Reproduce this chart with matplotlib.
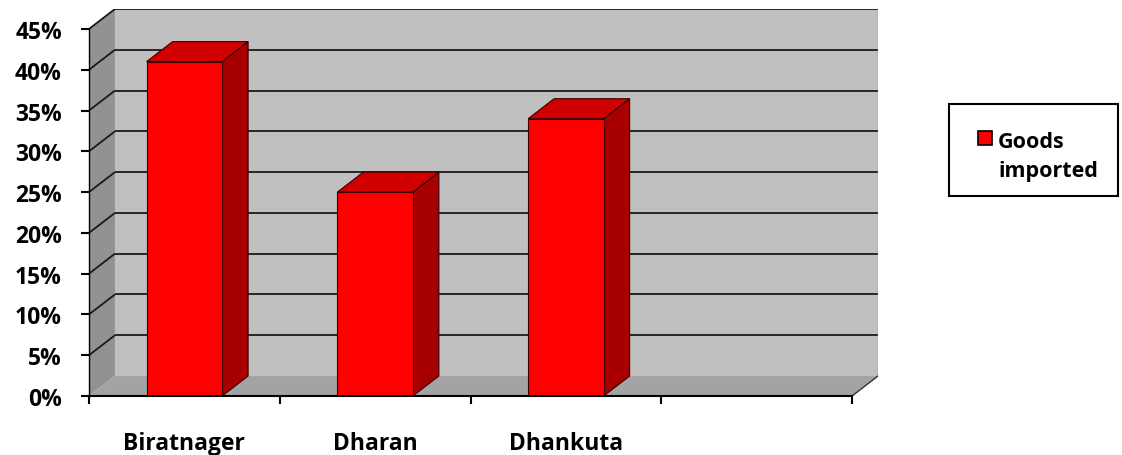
import matplotlib
matplotlib.use("Agg")
import matplotlib.pyplot as plt
from matplotlib.patches import Polygon, Rectangle

# Share of goods imported, by town
categories = ["Biratnager", "Dharan", "Dhankuta"]
goods_imported = [41, 25, 34]
n_slots = 4                      # category slots on the floor (last one is empty)
y_ticks = list(range(0, 50, 5))  # percent
series_label = "Goods\nimported"

# 3-D look
DX, DY = 0.136, 2.45             # depth offset in data units
BAR_HALF = 0.198
WALL_BACK = "#c0c0c0"
WALL_SIDE = "#929292"
FLOOR = "#a3a3a3"
RED_FRONT = "#ff0000"
RED_TOP = "#d00000"
RED_SIDE = "#a80000"
GRID = "#1a1a1a"

plt.rcParams["font.family"] = ["Open Sans", "DejaVu Sans"]
plt.rcParams["font.weight"] = "bold"

W, H = 1122, 456
fig = plt.figure(figsize=(W / 100, H / 100), dpi=100)
fig.patch.set_facecolor("white")

ax = fig.add_axes([89 / W, 59 / H, 789 / W, 387 / H])
ymax = y_ticks[-1]
ax.set_xlim(0, n_slots + DX)
ax.set_ylim(0, ymax + DY)
ax.set_facecolor("none")

def poly(pts, fc, ec="none", lw=0.0, z=1):
    ax.add_patch(Polygon(pts, closed=True, facecolor=fc, edgecolor=ec,
                         linewidth=lw, zorder=z, joinstyle="miter"))

# walls and floor
poly([(DX, DY), (n_slots + DX, DY), (n_slots + DX, ymax + DY), (DX, ymax + DY)], WALL_BACK)
poly([(0, 0), (DX, DY), (DX, ymax + DY), (0, ymax)], WALL_SIDE)
poly([(0, 0), (n_slots, 0), (n_slots + DX, DY), (DX, DY)], FLOOR)

# grid lines on back and side walls
for v in y_ticks[1:]:
    ax.plot([DX, n_slots + DX], [v + DY, v + DY], color=GRID, lw=1.3, zorder=2,
            solid_capstyle="butt")
    ax.plot([0, DX], [v, v + DY], color=GRID, lw=1.3, zorder=2, solid_capstyle="butt")
ax.plot([n_slots + DX, n_slots + DX], [DY, ymax + DY], color="#8a8a8a", lw=1.0, zorder=2)
ax.plot([n_slots, n_slots + DX], [0, DY], color="#333333", lw=1.0, zorder=2)

# bars
for i, v in enumerate(goods_imported):
    c = i + 0.5
    x0, x1 = c - BAR_HALF, c + BAR_HALF
    edge = dict(ec="#3a0000", lw=0.8, z=4)
    poly([(x1, 0), (x1 + DX, DY), (x1 + DX, v + DY), (x1, v)], RED_SIDE, **edge)
    poly([(x0, v), (x1, v), (x1 + DX, v + DY), (x0 + DX, v + DY)], RED_TOP, **edge)
    poly([(x0, 0), (x1, 0), (x1, v), (x0, v)], RED_FRONT, **edge)

# axes
for s in ("top", "right"):
    ax.spines[s].set_visible(False)
ax.spines["left"].set_bounds(0, ymax)
ax.spines["bottom"].set_bounds(0, n_slots)
ax.spines["left"].set_linewidth(1.0)
ax.spines["bottom"].set_linewidth(1.5)
ax.spines["left"].set_zorder(5)
ax.spines["bottom"].set_zorder(5)

ax.set_yticks(y_ticks)
ax.set_yticklabels([f"{v}%" for v in y_ticks])
ax.tick_params(axis="y", direction="out", length=6, width=1.5, pad=13.5,
               labelsize=16.5)
ax.set_xticks(range(n_slots + 1))
ax.set_xticklabels([""] * (n_slots + 1))
ax.set_xticks([i + 0.5 for i in range(len(categories))], minor=True)
ax.set_xticklabels(categories, minor=True)
ax.tick_params(axis="x", which="major", direction="out", length=6, width=1.5)
ax.tick_params(axis="x", which="minor", length=0, pad=25.5, labelsize=16.5)

# legend box
def fx(px):
    return px / W

def fy(py):
    return 1 - py / H

fig.add_artist(Rectangle((fx(949), fy(197)), fx(1118) - fx(949), fy(105) - fy(197),
                         transform=fig.transFigure, facecolor="white",
                         edgecolor="black", linewidth=1.5))
fig.add_artist(Rectangle((fx(978), fy(146)), 14 / W, 14 / H, transform=fig.transFigure,
                         facecolor=RED_FRONT, edgecolor="black", linewidth=1.2))
fig.text(fx(998), fy(157), series_label, ha="left", va="center", fontsize=15.5,
         linespacing=1.5, transform=fig.transFigure)

fig.savefig("out.png", dpi=100, facecolor="white")
